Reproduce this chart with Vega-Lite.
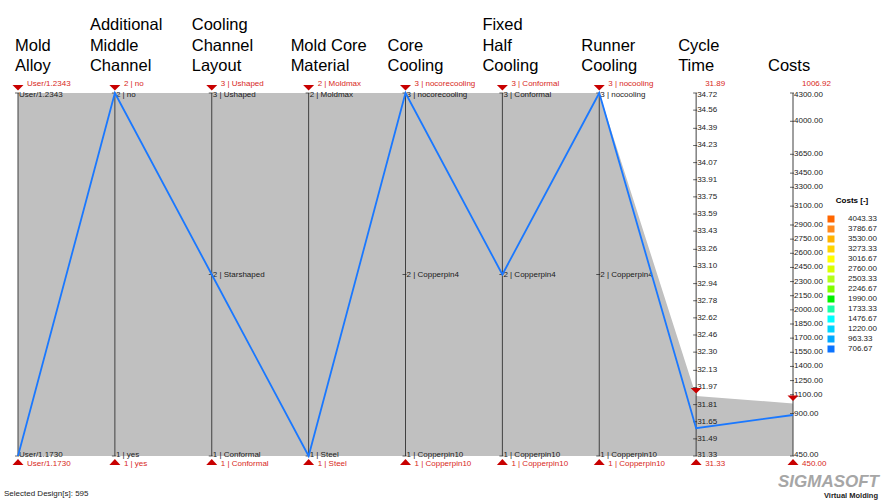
{
  "$schema": "https://vega.github.io/schema/vega-lite/v6.json",
  "width": 775,
  "height": 363,
  "autosize": {"type": "none"},
  "padding": {"left": 18, "top": 93, "right": 95, "bottom": 44},
  "background": "white",
  "config": {"view": {"stroke": null}, "text": {"font": "Liberation Sans"}},
  "datasets": {
    "dims": [
      {"dim": "Mold Alloy", "i": 1, "title": "Mold\nAlloy"},
      {"dim": "Additional Middle Channel", "i": 2, "title": "Additional\nMiddle\nChannel"},
      {"dim": "Cooling Channel Layout", "i": 3, "title": "Cooling\nChannel\nLayout"},
      {"dim": "Mold Core Material", "i": 4, "title": "Mold Core\nMaterial"},
      {"dim": "Core Cooling", "i": 5, "title": "Core\nCooling"},
      {"dim": "Fixed Half Cooling", "i": 6, "title": "Fixed\nHalf\nCooling"},
      {"dim": "Runner Cooling", "i": 7, "title": "Runner\nCooling"},
      {"dim": "Cycle Time", "i": 8, "title": "Cycle\nTime"},
      {"dim": "Costs", "i": 9, "title": "Costs"}
    ],
    "ranges": [
      {"dim": "Mold Alloy", "i": 1, "min": 1, "max": 2, "lo": 1, "hi": 2, "loLabel": "User/1.1730", "hiLabel": "User/1.2343"},
      {"dim": "Additional Middle Channel", "i": 2, "min": 1, "max": 2, "lo": 1, "hi": 2, "loLabel": "1 | yes", "hiLabel": "2 | no"},
      {"dim": "Cooling Channel Layout", "i": 3, "min": 1, "max": 3, "lo": 1, "hi": 3, "loLabel": "1 | Conformal", "hiLabel": "3 | Ushaped"},
      {"dim": "Mold Core Material", "i": 4, "min": 1, "max": 2, "lo": 1, "hi": 2, "loLabel": "1 | Steel", "hiLabel": "2 | Moldmax"},
      {"dim": "Core Cooling", "i": 5, "min": 1, "max": 3, "lo": 1, "hi": 3, "loLabel": "1 | Copperpin10", "hiLabel": "3 | nocorecooling"},
      {"dim": "Fixed Half Cooling", "i": 6, "min": 1, "max": 3, "lo": 1, "hi": 3, "loLabel": "1 | Copperpin10", "hiLabel": "3 | Conformal"},
      {"dim": "Runner Cooling", "i": 7, "min": 1, "max": 3, "lo": 1, "hi": 3, "loLabel": "1 | Copperpin10", "hiLabel": "3 | nocooling"},
      {"dim": "Cycle Time", "i": 8, "min": 31.33, "max": 34.72, "lo": 31.33, "hi": 31.89, "loLabel": "31.33", "hiLabel": "31.89"},
      {"dim": "Costs", "i": 9, "min": 450, "max": 4300, "lo": 450, "hi": 1006.92, "loLabel": "450.00", "hiLabel": "1006.92"}
    ],
    "ticks": [
      {"i": 1, "min": 1, "max": 2, "v": 1, "label": "User/1.1730"},
      {"i": 1, "min": 1, "max": 2, "v": 2, "label": "User/1.2343"},
      {"i": 2, "min": 1, "max": 2, "v": 1, "label": "1 | yes"},
      {"i": 2, "min": 1, "max": 2, "v": 2, "label": "2 | no"},
      {"i": 3, "min": 1, "max": 3, "v": 1, "label": "1 | Conformal"},
      {"i": 3, "min": 1, "max": 3, "v": 2, "label": "2 | Starshaped"},
      {"i": 3, "min": 1, "max": 3, "v": 3, "label": "3 | Ushaped"},
      {"i": 4, "min": 1, "max": 2, "v": 1, "label": "1 | Steel"},
      {"i": 4, "min": 1, "max": 2, "v": 2, "label": "2 | Moldmax"},
      {"i": 5, "min": 1, "max": 3, "v": 1, "label": "1 | Copperpin10"},
      {"i": 5, "min": 1, "max": 3, "v": 2, "label": "2 | Copperpin4"},
      {"i": 5, "min": 1, "max": 3, "v": 3, "label": "3 | nocorecooling"},
      {"i": 6, "min": 1, "max": 3, "v": 1, "label": "1 | Copperpin10"},
      {"i": 6, "min": 1, "max": 3, "v": 2, "label": "2 | Copperpin4"},
      {"i": 6, "min": 1, "max": 3, "v": 3, "label": "3 | Conformal"},
      {"i": 7, "min": 1, "max": 3, "v": 1, "label": "1 | Copperpin10"},
      {"i": 7, "min": 1, "max": 3, "v": 2, "label": "2 | Copperpin4"},
      {"i": 7, "min": 1, "max": 3, "v": 3, "label": "3 | nocooling"},
      {"i": 8, "min": 31.33, "max": 34.72, "v": 34.72, "label": "34.72"},
      {"i": 8, "min": 31.33, "max": 34.72, "v": 34.56, "label": "34.56"},
      {"i": 8, "min": 31.33, "max": 34.72, "v": 34.39, "label": "34.39"},
      {"i": 8, "min": 31.33, "max": 34.72, "v": 34.23, "label": "34.23"},
      {"i": 8, "min": 31.33, "max": 34.72, "v": 34.07, "label": "34.07"},
      {"i": 8, "min": 31.33, "max": 34.72, "v": 33.91, "label": "33.91"},
      {"i": 8, "min": 31.33, "max": 34.72, "v": 33.75, "label": "33.75"},
      {"i": 8, "min": 31.33, "max": 34.72, "v": 33.59, "label": "33.59"},
      {"i": 8, "min": 31.33, "max": 34.72, "v": 33.43, "label": "33.43"},
      {"i": 8, "min": 31.33, "max": 34.72, "v": 33.26, "label": "33.26"},
      {"i": 8, "min": 31.33, "max": 34.72, "v": 33.10, "label": "33.10"},
      {"i": 8, "min": 31.33, "max": 34.72, "v": 32.94, "label": "32.94"},
      {"i": 8, "min": 31.33, "max": 34.72, "v": 32.78, "label": "32.78"},
      {"i": 8, "min": 31.33, "max": 34.72, "v": 32.62, "label": "32.62"},
      {"i": 8, "min": 31.33, "max": 34.72, "v": 32.46, "label": "32.46"},
      {"i": 8, "min": 31.33, "max": 34.72, "v": 32.30, "label": "32.30"},
      {"i": 8, "min": 31.33, "max": 34.72, "v": 32.13, "label": "32.13"},
      {"i": 8, "min": 31.33, "max": 34.72, "v": 31.97, "label": "31.97"},
      {"i": 8, "min": 31.33, "max": 34.72, "v": 31.81, "label": "31.81"},
      {"i": 8, "min": 31.33, "max": 34.72, "v": 31.65, "label": "31.65"},
      {"i": 8, "min": 31.33, "max": 34.72, "v": 31.49, "label": "31.49"},
      {"i": 8, "min": 31.33, "max": 34.72, "v": 31.33, "label": "31.33"},
      {"i": 9, "min": 450, "max": 4300, "v": 4300, "label": "4300.00"},
      {"i": 9, "min": 450, "max": 4300, "v": 4000, "label": "4000.00"},
      {"i": 9, "min": 450, "max": 4300, "v": 3650, "label": "3650.00"},
      {"i": 9, "min": 450, "max": 4300, "v": 3450, "label": "3450.00"},
      {"i": 9, "min": 450, "max": 4300, "v": 3300, "label": "3300.00"},
      {"i": 9, "min": 450, "max": 4300, "v": 3100, "label": "3100.00"},
      {"i": 9, "min": 450, "max": 4300, "v": 2900, "label": "2900.00"},
      {"i": 9, "min": 450, "max": 4300, "v": 2750, "label": "2750.00"},
      {"i": 9, "min": 450, "max": 4300, "v": 2600, "label": "2600.00"},
      {"i": 9, "min": 450, "max": 4300, "v": 2450, "label": "2450.00"},
      {"i": 9, "min": 450, "max": 4300, "v": 2300, "label": "2300.00"},
      {"i": 9, "min": 450, "max": 4300, "v": 2150, "label": "2150.00"},
      {"i": 9, "min": 450, "max": 4300, "v": 2000, "label": "2000.00"},
      {"i": 9, "min": 450, "max": 4300, "v": 1850, "label": "1850.00"},
      {"i": 9, "min": 450, "max": 4300, "v": 1700, "label": "1700.00"},
      {"i": 9, "min": 450, "max": 4300, "v": 1550, "label": "1550.00"},
      {"i": 9, "min": 450, "max": 4300, "v": 1400, "label": "1400.00"},
      {"i": 9, "min": 450, "max": 4300, "v": 1250, "label": "1250.00"},
      {"i": 9, "min": 450, "max": 4300, "v": 1100, "label": "1100.00"},
      {"i": 9, "min": 450, "max": 4300, "v": 900, "label": "900.00"},
      {"i": 9, "min": 450, "max": 4300, "v": 450, "label": "450.00"}
    ],
    "selected": [
      {"dim": "Mold Alloy", "i": 1, "min": 1, "max": 2, "v": 1},
      {"dim": "Additional Middle Channel", "i": 2, "min": 1, "max": 2, "v": 2},
      {"dim": "Cooling Channel Layout", "i": 3, "min": 1, "max": 3, "v": 2},
      {"dim": "Mold Core Material", "i": 4, "min": 1, "max": 2, "v": 1},
      {"dim": "Core Cooling", "i": 5, "min": 1, "max": 3, "v": 3},
      {"dim": "Fixed Half Cooling", "i": 6, "min": 1, "max": 3, "v": 2},
      {"dim": "Runner Cooling", "i": 7, "min": 1, "max": 3, "v": 3},
      {"dim": "Cycle Time", "i": 8, "min": 31.33, "max": 34.72, "v": 31.59},
      {"dim": "Costs", "i": 9, "min": 450, "max": 4300, "v": 885}
    ],
    "legend": [
      {"Costs": "4043.33"}, {"Costs": "3786.67"}, {"Costs": "3530.00"}, {"Costs": "3273.33"},
      {"Costs": "3016.67"}, {"Costs": "2760.00"}, {"Costs": "2503.33"}, {"Costs": "2246.67"},
      {"Costs": "1990.00"}, {"Costs": "1733.33"}, {"Costs": "1476.67"}, {"Costs": "1220.00"},
      {"Costs": "963.33"}, {"Costs": "706.67"}
    ],
    "footer": [{"text": "Selected Design[s]: 595"}],
    "logo": [{"text": "SIGMASOFT", "sub": "Virtual Molding"}]
  },
  "layer": [
    {
      "data": {"name": "ranges"},
      "transform": [
        {"calculate": "(datum.lo - datum.min) / (datum.max - datum.min)", "as": "lo_n"},
        {"calculate": "(datum.hi - datum.min) / (datum.max - datum.min)", "as": "hi_n"}
      ],
      "mark": {"type": "area", "color": "#c0c0c0", "opacity": 1, "interpolate": "linear"},
      "encoding": {
        "x": {"field": "i", "type": "quantitative", "scale": {"domain": [1, 9], "nice": false, "zero": false}, "axis": null},
        "y": {"field": "lo_n", "type": "quantitative", "scale": {"domain": [0, 1], "nice": false, "zero": false}, "axis": null},
        "y2": {"field": "hi_n"}
      }
    },
    {
      "data": {"name": "dims"},
      "mark": {"type": "rule", "color": "#404040", "strokeWidth": 1},
      "encoding": {
        "x": {"field": "i", "type": "quantitative"},
        "y": {"datum": 0, "type": "quantitative"},
        "y2": {"datum": 1}
      }
    },
    {
      "data": {"name": "ticks"},
      "transform": [
        {"calculate": "(datum.v - datum.min) / (datum.max - datum.min)", "as": "n"}
      ],
      "layer": [
        {
          "mark": {"type": "tick", "orient": "horizontal", "size": 4, "thickness": 1, "color": "#222222", "xOffset": -1},
          "encoding": {
            "x": {"field": "i", "type": "quantitative"},
            "y": {"field": "n", "type": "quantitative"}
          }
        },
        {
          "transform": [{"filter": "datum.n > 0.999"}],
          "mark": {"type": "text", "align": "left", "baseline": "middle", "dx": 1, "dy": 2, "fontSize": 8, "color": "#1a1a1a"},
          "encoding": {
            "x": {"field": "i", "type": "quantitative"},
            "y": {"field": "n", "type": "quantitative"},
            "text": {"field": "label"}
          }
        },
        {
          "transform": [{"filter": "datum.n < 0.001"}],
          "mark": {"type": "text", "align": "left", "baseline": "middle", "dx": 1, "dy": -1.5, "fontSize": 8, "color": "#1a1a1a"},
          "encoding": {
            "x": {"field": "i", "type": "quantitative"},
            "y": {"field": "n", "type": "quantitative"},
            "text": {"field": "label"}
          }
        },
        {
          "transform": [{"filter": "datum.n >= 0.001 && datum.n <= 0.999"}],
          "mark": {"type": "text", "align": "left", "baseline": "middle", "dx": 1, "fontSize": 8, "color": "#1a1a1a"},
          "encoding": {
            "x": {"field": "i", "type": "quantitative"},
            "y": {"field": "n", "type": "quantitative"},
            "text": {"field": "label"}
          }
        }
      ]
    },
    {
      "data": {"name": "selected"},
      "transform": [
        {"calculate": "(datum.v - datum.min) / (datum.max - datum.min)", "as": "n"}
      ],
      "mark": {"type": "line", "color": "#1a78ff", "strokeWidth": 1.8},
      "encoding": {
        "x": {"field": "i", "type": "quantitative"},
        "y": {"field": "n", "type": "quantitative"}
      }
    },
    {
      "data": {"name": "ranges"},
      "transform": [
        {"calculate": "(datum.lo - datum.min) / (datum.max - datum.min)", "as": "lo_n"},
        {"calculate": "(datum.hi - datum.min) / (datum.max - datum.min)", "as": "hi_n"}
      ],
      "layer": [
        {
          "mark": {"type": "point", "shape": "M -1 -1.45 L 1 -1.45 L 0 -0.45 Z", "size": 121, "filled": true, "color": "#c80000", "opacity": 1, "strokeWidth": 0},
          "encoding": {
            "x": {"field": "i", "type": "quantitative"},
            "y": {"field": "hi_n", "type": "quantitative"}
          }
        },
        {
          "mark": {"type": "point", "shape": "M -1 1.65 L 1 1.65 L 0 0.55 Z", "size": 121, "filled": true, "color": "#c80000", "opacity": 1, "strokeWidth": 0},
          "encoding": {
            "x": {"field": "i", "type": "quantitative"},
            "y": {"field": "lo_n", "type": "quantitative"}
          }
        },
        {
          "mark": {"type": "text", "align": "left", "baseline": "middle", "dx": 9, "dy": -9, "fontSize": 8, "color": "#d8281b"},
          "encoding": {
            "x": {"field": "i", "type": "quantitative"},
            "y": {"datum": 1, "type": "quantitative"},
            "text": {"field": "hiLabel"}
          }
        },
        {
          "mark": {"type": "text", "align": "left", "baseline": "middle", "dx": 9, "dy": 8, "fontSize": 8, "color": "#d8281b"},
          "encoding": {
            "x": {"field": "i", "type": "quantitative"},
            "y": {"datum": 0, "type": "quantitative"},
            "text": {"field": "loLabel"}
          }
        }
      ]
    },
    {
      "data": {"name": "dims"},
      "layer": [
        {
          "transform": [{"filter": "datum.dim === 'Mold Alloy'"}],
          "mark": {"type": "text", "align": "left", "baseline": "alphabetic", "dx": -3, "dy": -42.5, "fontSize": 16.5, "lineHeight": 20.5, "lineBreak": "\n", "color": "#000000"},
          "encoding": {
            "x": {"field": "i", "type": "quantitative"},
            "y": {"datum": 1, "type": "quantitative"},
            "text": {"field": "title"}
          }
        },
        {
          "transform": [{"filter": "datum.dim === 'Additional Middle Channel'"}],
          "mark": {"type": "text", "align": "left", "baseline": "alphabetic", "dx": -25, "dy": -63, "fontSize": 16.5, "lineHeight": 20.5, "lineBreak": "\n", "color": "#000000"},
          "encoding": {
            "x": {"field": "i", "type": "quantitative"},
            "y": {"datum": 1, "type": "quantitative"},
            "text": {"field": "title"}
          }
        },
        {
          "transform": [{"filter": "datum.dim === 'Costs'"}],
          "mark": {"type": "text", "align": "left", "baseline": "alphabetic", "dx": -25, "dy": -22, "fontSize": 16.5, "lineHeight": 20.5, "lineBreak": "\n", "color": "#000000"},
          "encoding": {
            "x": {"field": "i", "type": "quantitative"},
            "y": {"datum": 1, "type": "quantitative"},
            "text": {"field": "title"}
          }
        },
        {
          "transform": [{"filter": "datum.dim === 'Cooling Channel Layout' || datum.dim === 'Fixed Half Cooling'"}],
          "mark": {"type": "text", "align": "left", "baseline": "alphabetic", "dx": -20, "dy": -63, "fontSize": 16.5, "lineHeight": 20.5, "lineBreak": "\n", "color": "#000000"},
          "encoding": {
            "x": {"field": "i", "type": "quantitative"},
            "y": {"datum": 1, "type": "quantitative"},
            "text": {"field": "title"}
          }
        },
        {
          "transform": [{"filter": "datum.dim === 'Mold Core Material' || datum.dim === 'Core Cooling' || datum.dim === 'Runner Cooling' || datum.dim === 'Cycle Time'"}],
          "mark": {"type": "text", "align": "left", "baseline": "alphabetic", "dx": -18, "dy": -42.5, "fontSize": 16.5, "lineHeight": 20.5, "lineBreak": "\n", "color": "#000000"},
          "encoding": {
            "x": {"field": "i", "type": "quantitative"},
            "y": {"datum": 1, "type": "quantitative"},
            "text": {"field": "title"}
          }
        }
      ]
    },
    {
      "data": {"name": "legend"},
      "mark": {"type": "point", "filled": true, "opacity": 0},
      "encoding": {
        "x": {"datum": 9, "type": "quantitative"},
        "y": {"datum": 0, "type": "quantitative"},
        "color": {
          "field": "Costs",
          "type": "nominal",
          "scale": {
            "domain": ["4043.33", "3786.67", "3530.00", "3273.33", "3016.67", "2760.00", "2503.33", "2246.67", "1990.00", "1733.33", "1476.67", "1220.00", "963.33", "706.67"],
            "range": ["#ff6600", "#ff8a1c", "#ffb300", "#ffd500", "#ffff00", "#d9ff00", "#b3ff1a", "#80ff00", "#00f000", "#1affa8", "#00ffff", "#00d5ff", "#00aaff", "#0a73ff"]
          },
          "legend": {
            "title": "Costs [-]",
            "orient": "none",
            "legendX": 809,
            "legendY": 104,
            "padding": 0,
            "symbolType": "square",
            "symbolSize": 49,
            "symbolOpacity": 1,
            "symbolStrokeWidth": 0,
            "labelFont": "Liberation Sans",
            "labelFontSize": 8,
            "labelColor": "#222222",
            "labelOffset": 13,
            "rowPadding": 2,
            "titleFont": "Liberation Sans",
            "titleFontSize": 8,
            "titleFontWeight": "bold",
            "titleColor": "#000000",
            "titlePadding": 10,
            "titleAnchor": "middle"
          }
        }
      }
    },
    {
      "data": {"name": "footer"},
      "mark": {"type": "text", "align": "left", "baseline": "middle", "dx": -14, "dy": 38, "fontSize": 8, "color": "#222222"},
      "encoding": {
        "x": {"datum": 1, "type": "quantitative"},
        "y": {"datum": 0, "type": "quantitative"},
        "text": {"field": "text"}
      }
    },
    {
      "data": {"name": "logo"},
      "layer": [
        {
          "mark": {"type": "text", "align": "right", "baseline": "middle", "dx": 86, "dy": 26, "fontSize": 17, "fontWeight": "bold", "fontStyle": "italic", "color": "#a6a6a6"},
          "encoding": {
            "x": {"datum": 9, "type": "quantitative"},
            "y": {"datum": 0, "type": "quantitative"},
            "text": {"field": "text"}
          }
        },
        {
          "mark": {"type": "text", "align": "right", "baseline": "middle", "dx": 85, "dy": 40, "fontSize": 7.5, "fontWeight": "bold", "color": "#222222"},
          "encoding": {
            "x": {"datum": 9, "type": "quantitative"},
            "y": {"datum": 0, "type": "quantitative"},
            "text": {"field": "sub"}
          }
        }
      ]
    }
  ]
}
